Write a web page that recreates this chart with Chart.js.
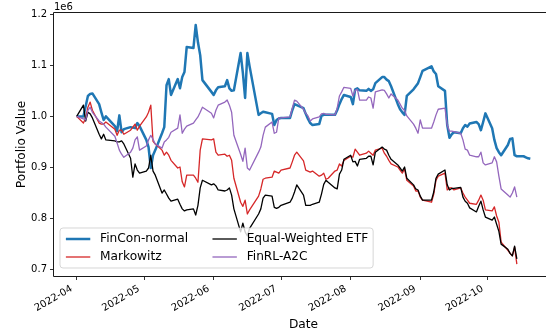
<!DOCTYPE html>
<html>
<head>
<meta charset="utf-8">
<title>Portfolio Value</title>
<script src="https://cdn.jsdelivr.net/npm/chart.js@4.4.1/dist/chart.umd.min.js"></script>
<style>
  html, body { margin: 0; padding: 0; background: #fff; overflow: hidden; }
  canvas { display: block; }
</style>
</head>
<body>
<canvas id="chart" width="560" height="332"></canvas>
<script>
// ---- Trading calendar ----
const FIRST_SESSION = '2022-04-01';
const MARKET_HOLIDAYS = ['2022-04-15', '2022-05-30', '2022-06-20', '2022-07-04', '2022-09-05'];
const MONTH_TICKS = ['2022-04', '2022-05', '2022-06', '2022-07', '2022-08', '2022-09', '2022-10'];

// ---- Portfolio value per trading day (millions of dollars) ----
const SERIES_LABELS = ['FinCon-normal', 'Markowitz', 'Equal-Weighted ETF', 'FinRL-A2C'];

const finconNormal = [
  1.000, 1.000, 1.020, 1.040, 1.044, 1.045, 1.024, 1.008, 0.993, 1.000, 0.981, 0.971, 1.002, 0.969, 0.975, 0.979, 0.978, 0.977, 0.987, 0.981,
  0.954, 0.940, 0.899, 0.924, 0.934, 0.967, 0.979, 1.061, 1.073, 1.042, 1.073, 1.055, 1.077, 1.087, 1.136, 1.134, 1.179, 1.145, 1.120, 1.071, 1.048,
  1.042, 1.051, 1.057, 1.059, 1.071, 1.055, 1.050, 1.051, 1.124, 1.085, 1.036, 1.124, 1.098, 1.003, 1.006, 1.009, 1.008, 1.005, 0.983, 0.993, 0.996,
  0.997, 0.997, 1.012, 1.024, 1.022, 1.016, 1.005, 0.995, 0.987, 0.983, 0.985, 1.001, 1.003, 1.003, 1.003, 1.003, 1.012, 1.024, 1.034, 1.042,
  1.038, 1.024, 1.053, 1.055, 1.051, 1.050, 1.054, 1.050, 1.053, 1.065, 1.077, 1.077, 1.072, 1.069, 1.059, 1.024, 1.014, 1.008, 1.003, 1.040, 1.053, 1.059, 1.065,
  1.077, 1.089, 1.098, 1.088, 1.083, 1.059, 1.050, 0.983, 0.958, 0.965, 0.969, 0.967, 0.977, 0.983, 0.980, 0.986, 0.989, 0.985, 0.973, 0.989, 1.006,
  0.977, 0.954, 0.938, 0.930, 0.924, 0.944, 0.956, 0.957, 0.924, 0.922, 0.922, 0.920, 0.918, 0.917
];

const markowitz = [
  1.000, 0.987, 0.997, 1.018, 1.028, 1.012, 0.987, 0.985, 0.985, 0.989, 0.975, 0.963, 0.973, 0.973, 0.965, 0.973, 0.979, 0.985, 0.973, 0.981,
  0.999, 1.008, 1.022, 0.951, 0.946, 0.934, 0.924, 0.930, 0.924, 0.914, 0.899, 0.901, 0.872, 0.862, 0.885, 0.885, 0.879, 0.871, 0.934, 0.956, 0.954,
  0.956, 0.930, 0.924, 0.926, 0.922, 0.924, 0.914, 0.879, 0.832, 0.824, 0.836, 0.809, 0.817, 0.844, 0.858, 0.877, 0.879, 0.881, 0.893, 0.891, 0.889,
  0.895, 0.899, 0.911, 0.924, 0.930, 0.913, 0.895, 0.893, 0.891, 0.893, 0.883, 0.885, 0.889, 0.877, 0.879, 0.893, 0.895, 0.907, 0.903, 0.914,
  0.922, 0.920, 0.936, 0.930, 0.924, 0.928, 0.932, 0.928, 0.924, 0.934, 0.938, 0.928, 0.922, 0.914, 0.907, 0.901, 0.895, 0.889, 0.897, 0.875, 0.864, 0.854, 0.854,
  0.842, 0.836, 0.832, 0.848, 0.875, 0.883, 0.889, 0.856, 0.860, 0.860, 0.856, 0.860, 0.850, 0.842, 0.836, 0.830, 0.828, 0.836, 0.846, 0.836, 0.817,
  0.815, 0.823, 0.805, 0.793, 0.754, 0.738, 0.732, 0.727, 0.744, 0.711
];

const equalWeightedEtf = [
  1.000, 1.022, 0.991, 1.008, 1.005, 0.997, 0.965, 0.956, 0.965, 0.954, 0.952, 0.950, 0.950, 0.952, 0.946, 0.918, 0.881, 0.907, 0.895, 0.889,
  0.893, 0.899, 0.924, 0.893, 0.885, 0.850, 0.856, 0.848, 0.840, 0.834, 0.838, 0.828, 0.819, 0.815, 0.817, 0.819, 0.807, 0.826, 0.860, 0.875, 0.866,
  0.868, 0.864, 0.856, 0.854, 0.856, 0.860, 0.846, 0.819, 0.774, 0.791, 0.774, 0.766, 0.781, 0.809, 0.819, 0.840, 0.846, 0.844, 0.822, 0.820, 0.822,
  0.826, 0.832, 0.840, 0.852, 0.866, 0.846, 0.826, 0.826, 0.826, 0.828, 0.832, 0.848, 0.867, 0.875, 0.871, 0.860, 0.858, 0.887, 0.895, 0.916,
  0.924, 0.911, 0.912, 0.903, 0.916, 0.918, 0.922, 0.922, 0.905, 0.930, 0.940, 0.936, 0.934, 0.924, 0.916, 0.905, 0.899, 0.893, 0.901, 0.879, 0.866, 0.858, 0.856,
  0.844, 0.836, 0.836, 0.852, 0.879, 0.887, 0.895, 0.866, 0.856, 0.859, 0.859, 0.861, 0.842, 0.834, 0.830, 0.821, 0.813, 0.824, 0.834, 0.817, 0.803,
  0.797, 0.803, 0.789, 0.775, 0.750, 0.740, 0.732, 0.727, 0.746, 0.721
];

const finrlA2c = [
  1.000, 0.995, 0.993, 1.012, 1.018, 1.008, 0.991, 0.988, 0.985, 0.979, 0.961, 0.948, 0.934, 0.926, 0.920, 0.930, 0.938, 0.954, 0.960, 0.934,
  0.942, 0.954, 0.963, 0.955, 0.946, 0.938, 0.950, 0.954, 0.959, 0.969, 0.977, 1.003, 0.967, 0.975, 0.981, 0.987, 0.993, 0.999, 1.008, 1.018, 1.006,
  0.997, 1.012, 1.022, 1.028, 1.032, 1.022, 1.008, 0.963, 0.926, 0.912, 0.938, 0.899, 0.895, 0.930, 0.940, 0.963, 0.979, 0.989, 0.967, 0.969, 0.997,
  0.997, 0.999, 1.016, 1.032, 1.030, 1.014, 1.006, 1.001, 0.991, 0.995, 0.999, 1.005, 1.006, 1.004, 1.004, 1.003, 1.016, 1.040, 1.048, 1.057,
  1.055, 1.040, 1.051, 1.053, 1.032, 1.032, 1.038, 1.036, 1.016, 1.048, 1.052, 1.051, 1.044, 1.036, 1.044, 1.032, 1.024, 1.016, 1.012, 1.001, 0.985, 0.977, 0.967,
  0.993, 0.977, 0.977, 0.989, 1.003, 1.014, 1.016, 0.983, 0.971, 0.971, 0.970, 0.967, 0.954, 0.936, 0.934, 0.924, 0.921, 0.921, 0.930, 0.909, 0.905,
  0.909, 0.921, 0.911, 0.883, 0.858, 0.846, 0.842, 0.850, 0.862, 0.842
];

const SERIES_VALUES = [finconNormal, markowitz, equalWeightedEtf, finrlA2c];
const SERIES_COLORS = ['#1f77b4', '#d62728', '#000000', '#9467bd'];
const SERIES_WIDTHS = [2.5, 1.3, 1.3, 1.3];

// ---- helpers ----
const DAY_MS = 86400000;
const t0 = Date.parse(FIRST_SESSION + 'T00:00:00Z');
const dayOf = iso => Math.round((Date.parse(iso + 'T00:00:00Z') - t0) / DAY_MS);

// day offsets (from the first session) of the first `count` trading sessions
function sessionDays(count) {
  const out = [];
  const d = new Date(t0);
  while (out.length < count) {
    const iso = d.toISOString().slice(0, 10);
    const wd = d.getUTCDay();
    if (wd !== 0 && wd !== 6 && !MARKET_HOLIDAYS.includes(iso)) out.push(dayOf(iso));
    d.setUTCDate(d.getUTCDate() + 1);
  }
  return out;
}

const seriesPoints = SERIES_VALUES.map(vals => {
  const days = sessionDays(vals.length);
  return vals.map((v, i) => ({ x: days[i], y: v }));
});

// axis limits with a 5% margin around the data
const allX = seriesPoints.flat().map(p => p.x);
const allY = seriesPoints.flat().map(p => p.y);
const xLo = Math.min(...allX), xHi = Math.max(...allX);
const yLo = Math.min(...allY), yHi = Math.max(...allY);
const xMargin = 0.05 * (xHi - xLo), yMargin = 0.05 * (yHi - yLo);

const FONT = "'DejaVu Sans', sans-serif";
const LABEL_SIZE = 12.2;
const CANVAS_W = 560;
const PLOT = { left: 54, top: 13, right: 553, bottom: 276 };

// axis frame and the 1e6 multiplier
const frame = {
  id: 'frame',
  afterDatasetsDraw(chart) {
    const { ctx, chartArea: a } = chart;
    ctx.save();
    ctx.strokeStyle = '#1a1a1a';
    ctx.lineWidth = 1;
    ctx.beginPath();
    ctx.moveTo(a.left - 0.5, a.top - 0.5);
    ctx.lineTo(a.right + 0.5, a.top - 0.5);
    ctx.lineTo(a.right + 0.5, a.bottom + 0.5);
    ctx.lineTo(a.left - 0.5, a.bottom + 0.5);
    ctx.closePath();
    ctx.stroke();
    ctx.fillStyle = '#000';
    ctx.font = '10px ' + FONT;
    ctx.textAlign = 'left';
    ctx.textBaseline = 'alphabetic';
    ctx.fillText('1e6', a.left, a.top - 3);
    ctx.restore();
  }
};

// two-column legend in the lower-left corner of the plot,
// sized from the measured label widths
const cornerLegend = {
  id: 'cornerLegend',
  afterDraw(chart) {
    const { ctx, chartArea: a } = chart;
    const em = LABEL_SIZE;
    const pad = 0.4 * em, handleLen = 2 * em, handleGap = 0.8 * em, colGap = 2 * em;
    ctx.save();
    ctx.font = em + 'px ' + FONT;
    const sets = chart.data.datasets;
    const colW = [0, 1].map(c => Math.max(
      ...sets.filter((_, i) => Math.floor(i / 2) === c).map(ds => ctx.measureText(ds.label).width)));

    const x0 = a.left + 6, y0 = a.bottom - 48, h = 40, r = 3;
    const col1 = x0 + pad + 1;
    const col2 = col1 + handleLen + handleGap + colW[0] + colGap;
    const w = (col2 + handleLen + handleGap + colW[1] + pad) - x0;

    ctx.beginPath();
    ctx.moveTo(x0 + r, y0);
    ctx.lineTo(x0 + w - r, y0);
    ctx.arcTo(x0 + w, y0, x0 + w, y0 + r, r);
    ctx.lineTo(x0 + w, y0 + h - r);
    ctx.arcTo(x0 + w, y0 + h, x0 + w - r, y0 + h, r);
    ctx.lineTo(x0 + r, y0 + h);
    ctx.arcTo(x0, y0 + h, x0, y0 + h - r, r);
    ctx.lineTo(x0, y0 + r);
    ctx.arcTo(x0, y0, x0 + r, y0, r);
    ctx.closePath();
    ctx.fillStyle = 'rgba(255,255,255,0.8)';
    ctx.fill();
    ctx.strokeStyle = 'rgba(204,204,204,0.8)';
    ctx.lineWidth = 1;
    ctx.stroke();

    const colX = [col1, col2];
    const rowY = [y0 + 11, y0 + 29];
    ctx.textAlign = 'left';
    ctx.textBaseline = 'middle';
    sets.forEach((ds, i) => {
      const cx = colX[Math.floor(i / 2)], cy = rowY[i % 2];
      ctx.strokeStyle = ds.borderColor;
      ctx.lineWidth = ds.borderWidth;
      ctx.lineCap = 'square';
      ctx.beginPath();
      ctx.moveTo(cx + ds.borderWidth / 2, cy);
      ctx.lineTo(cx + handleLen - ds.borderWidth / 2, cy);
      ctx.stroke();
      ctx.fillStyle = '#000';
      ctx.fillText(ds.label, cx + handleLen + handleGap, cy);
    });
    ctx.restore();
  }
};

new Chart(document.getElementById('chart'), {
  type: 'line',
  data: {
    datasets: SERIES_LABELS.map((label, i) => ({
      label,
      data: seriesPoints[i],
      borderColor: SERIES_COLORS[i],
      backgroundColor: SERIES_COLORS[i],
      borderWidth: SERIES_WIDTHS[i],
      order: SERIES_LABELS.length - i,
      fill: false
    }))
  },
  options: {
    responsive: false,
    animation: false,
    devicePixelRatio: 1,
    layout: { padding: { top: PLOT.top, right: CANVAS_W - PLOT.right, left: 0, bottom: 0 } },
    plugins: { legend: { display: false }, tooltip: { enabled: false } },
    elements: {
      point: { radius: 0, hoverRadius: 0 },
      line: { tension: 0, borderJoinStyle: 'round', borderCapStyle: 'butt' }
    },
    scales: {
      x: {
        type: 'linear',
        min: xLo - xMargin,
        max: xHi + xMargin,
        afterFit: s => { s.height = 332 - PLOT.bottom; },
        afterBuildTicks: s => { s.ticks = MONTH_TICKS.map(m => ({ value: dayOf(m + '-01') })); },
        ticks: {
          autoSkip: false,
          minRotation: 30,
          maxRotation: 30,
          padding: 3,
          labelOffset: -5,
          color: '#000',
          font: { family: FONT, size: 10 },
          callback: (v, i) => MONTH_TICKS[i]
        },
        grid: { display: true, drawOnChartArea: false, drawTicks: true, tickLength: 4, color: '#000', lineWidth: 0.8 },
        border: { display: false },
        title: { display: true, text: 'Date', color: '#000', font: { family: FONT, size: LABEL_SIZE }, padding: { top: 0, bottom: 0 } }
      },
      y: {
        type: 'linear',
        min: yLo - yMargin,
        max: yHi + yMargin,
        afterFit: s => { s.width = PLOT.left; },
        afterBuildTicks: s => { s.ticks = [0.7, 0.8, 0.9, 1.0, 1.1, 1.2].map(v => ({ value: v })); },
        ticks: {
          padding: 3,
          color: '#000',
          font: { family: FONT, size: 10 },
          callback: v => Number(v).toFixed(1)
        },
        grid: { display: true, drawOnChartArea: false, drawTicks: true, tickLength: 4, color: '#000', lineWidth: 0.8 },
        border: { display: false },
        title: { display: true, text: 'Portfolio Value', color: '#000', font: { family: FONT, size: LABEL_SIZE }, padding: { top: 15, bottom: 0 } }
      }
    }
  },
  plugins: [frame, cornerLegend]
});
</script>
</body>
</html>
